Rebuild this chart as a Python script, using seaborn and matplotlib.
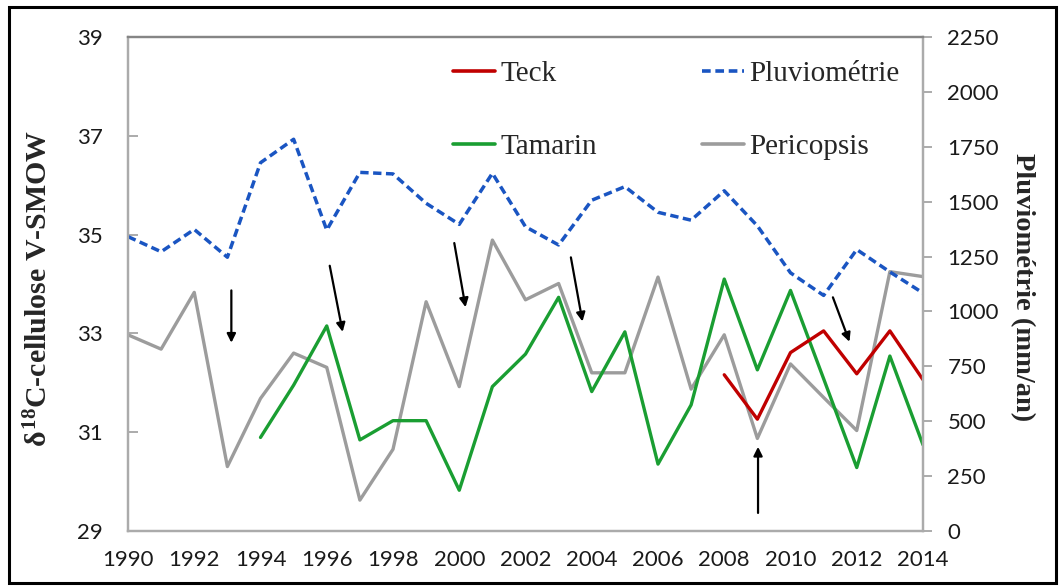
import numpy as np
import pandas as pd
import seaborn as sns
import matplotlib.pyplot as plt
from matplotlib.lines import Line2D
from matplotlib.patches import Rectangle

# Data --------------------------------------------------------------------------
years = list(range(1990, 2015))
pericopsis = [32.97, 32.68, 33.83, 30.30, 31.68, 32.60, 32.31, 29.62, 30.65, 33.64,
              31.92, 34.89, 33.68, 34.01, 32.20, 32.20, 34.14, 31.87, 32.97, 30.87,
              32.38, 31.70, 31.03, 34.25, 34.15]
tamarin_years = list(range(1994, 2015))
tamarin = [30.89, 31.95, 33.15, 30.84, 31.23, 31.23, 29.82, 31.92, 32.58, 33.73,
           31.82, 33.03, 30.35, 31.55, 34.10, 32.26, 33.87, 32.08, 30.28, 32.54, 30.74]
teck_years = list(range(2008, 2015))
teck = [32.16, 31.26, 32.61, 33.05, 32.18, 33.05, 32.06]
pluvio = [1341, 1272, 1374, 1247, 1678, 1785, 1371, 1634, 1627, 1493,
          1397, 1630, 1386, 1303, 1507, 1569, 1452, 1416, 1550, 1390,
          1176, 1073, 1282, 1180, 1084]

# arrows (year, delta value) from -> to
arrow_from = [(1993.12, 33.87), (1996.09, 34.37), (1999.85, 34.83),
              (2003.37, 34.54), (2011.28, 33.73), (2009.02, 29.36)]
arrow_to = [(1993.12, 32.81), (1996.48, 33.03), (2000.19, 33.53),
            (2003.72, 33.24), (2011.78, 32.83), (2009.02, 30.70)]

pal = {"teck": "#c00000", "tamarin": "#1a9e32", "pluvio": "#1a55c2",
       "pericopsis": "#9c9c9c", "spine": "#ababab", "top": "#858585"}
dash = (0, (2.4, 1.3))

sns.set_style("white")
plt.rcParams["font.family"] = ["Lato", "DejaVu Sans"]
plt.rcParams["mathtext.fontset"] = "custom"
plt.rcParams["mathtext.rm"] = "Liberation Serif:bold"
plt.rcParams["mathtext.it"] = "Liberation Serif:bold"
plt.rcParams["mathtext.bf"] = "Liberation Serif:bold"

W, H = 1061, 587
fig = plt.figure(figsize=(W / 100, H / 100), dpi=100)
ax = fig.add_axes([128 / W, 1 - 530.7 / H, (923 - 128) / W, (530.7 - 37.3) / H])
ax2 = ax.twinx()

peri_df = pd.DataFrame({"year": years, "val": pericopsis})
tam_df = pd.DataFrame({"year": tamarin_years, "val": tamarin})
teck_df = pd.DataFrame({"year": teck_years, "val": teck})
pluv_df = pd.DataFrame({"year": years, "val": pluvio})

sns.lineplot(data=peri_df, x="year", y="val", ax=ax, color=pal["pericopsis"], lw=2.4)
sns.lineplot(data=tam_df, x="year", y="val", ax=ax, color=pal["tamarin"], lw=2.4)
sns.lineplot(data=teck_df, x="year", y="val", ax=ax, color=pal["teck"], lw=2.4)
sns.lineplot(data=pluv_df, x="year", y="val", ax=ax2, color=pal["pluvio"], lw=2.5,
             linestyle=dash)

for (x0, y0), (x1, y1) in zip(arrow_from, arrow_to):
    ax.annotate("", xy=(x1, y1), xytext=(x0, y0),
                arrowprops=dict(arrowstyle="-|>", color="black", lw=1.6,
                                mutation_scale=13, shrinkA=0, shrinkB=0))

# Axes -------------------------------------------------------------------------
ax.set_xlim(1990, 2014)
ax.set_ylim(29, 39)
ax2.set_ylim(0, 2250)
ax.set_xticks(range(1990, 2015, 2))
ax.set_yticks(range(29, 40, 2))
ax2.set_yticks(range(0, 2251, 250))
ax.set_xlabel("")
ax.set_ylabel("")
ax2.set_ylabel("")

for a in (ax, ax2):
    for s in a.spines.values():
        s.set_color(pal["spine"])
        s.set_linewidth(1.6)
    a.spines["top"].set_color(pal["top"])

ax.tick_params(axis="x", direction="in", length=7, width=1.4, color=pal["spine"],
               labelsize=16, pad=14, labelcolor="#1a1a1a")
ax.tick_params(axis="y", direction="in", length=7, width=1.4, color=pal["spine"],
               labelsize=16, pad=18, labelcolor="#1a1a1a")
ax2.tick_params(axis="y", direction="out", length=6.5, width=1.4, color=pal["spine"],
                labelsize=16, pad=11, labelcolor="#1a1a1a")

ax.text(-0.112, 0.49, r"$\delta^{18}$C-cellulose V-SMOW", transform=ax.transAxes,
        rotation=90, ha="center", va="center", family="Liberation Serif",
        weight="bold", size=21.5)
ax.text(1.1245, 0.494, "Pluviométrie (mm/an)", transform=ax.transAxes,
        rotation=270, ha="center", va="center", family="Liberation Serif",
        weight="bold", size=20.5)

handles = [Line2D([0], [0], color=pal["teck"], lw=2.6),
           Line2D([0], [0], color=pal["tamarin"], lw=2.6),
           Line2D([0], [0], color=pal["pluvio"], lw=2.6, linestyle=dash),
           Line2D([0], [0], color=pal["pericopsis"], lw=2.6)]
labels = ["Teck", "Tamarin", "Pluviométrie", "Pericopsis"]
fig.legend(handles, labels, ncol=2, loc="upper left",
           bbox_to_anchor=(453 / W, 1 - 61 / H), frameon=False,
           prop={"family": "Liberation Serif", "size": 21},
           handlelength=1.44, handletextpad=0.18, columnspacing=3.6,
           labelspacing=1.58, borderpad=0, borderaxespad=0)

fig.add_artist(Rectangle((9 / W, 4 / H), (1056 - 9) / W, (580 - 4) / H,
                         transform=fig.transFigure, fill=False,
                         edgecolor="black", lw=2.2))

fig.savefig("out.png", dpi=100)
